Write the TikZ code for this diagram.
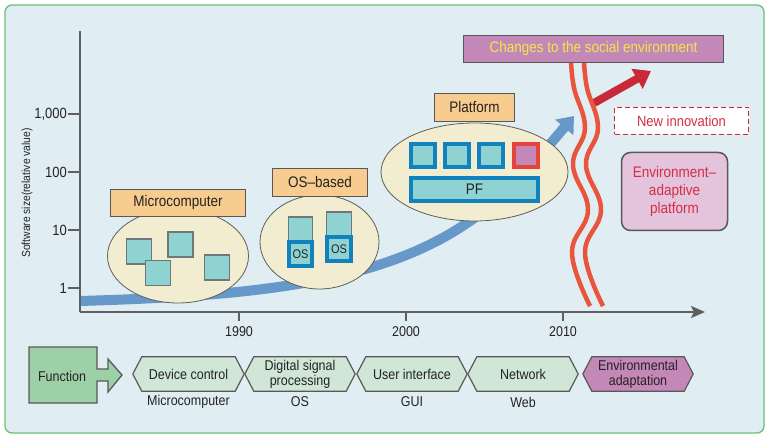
\documentclass[tikz,border=0pt]{standalone}
\usepackage{fontspec}
\setmainfont{Liberation Sans}[FakeStretch=0.88]
\usetikzlibrary{shapes.geometric,arrows.meta}
\definecolor{bgc}{RGB}{224,237,242}
\definecolor{borderc}{RGB}{110,192,112}
\definecolor{axisc}{RGB}{95,95,95}
\definecolor{edgec}{RGB}{88,88,88}
\definecolor{txtc}{RGB}{35,35,35}
\definecolor{orangec}{RGB}{248,204,142}
\definecolor{ellfill}{RGB}{242,236,208}
\definecolor{ellc}{RGB}{95,95,85}
\definecolor{tealc}{RGB}{143,210,210}
\definecolor{sqedge}{RGB}{110,120,120}
\definecolor{bluebd}{RGB}{18,130,190}
\definecolor{curvec}{RGB}{102,152,202}
\definecolor{wavec}{RGB}{232,85,60}
\definecolor{arrowred}{RGB}{200,40,55}
\definecolor{purplec}{RGB}{195,136,184}
\definecolor{yellowt}{RGB}{240,232,70}
\definecolor{redsq}{RGB}{228,68,58}
\definecolor{pinkc}{RGB}{228,196,220}
\definecolor{redtxt}{RGB}{212,45,70}
\definecolor{hexfill}{RGB}{208,230,214}
\definecolor{greenc}{RGB}{158,208,168}
\newcommand{\fs}[1]{\fontsize{\dimexpr #1pt*1136/1000\relax}{\dimexpr #1pt*1136/1000\relax}\selectfont}
\newcommand{\fsl}[2]{\fontsize{\dimexpr #1pt*1136/1000\relax}{#2pt}\selectfont}
\newcommand{\hexa}[5]{%
  \node[hexnode, fill=none, minimum width=#3pt] (#1) at (#2,374) {};
  \filldraw[hexline, fill=#4] (#1.north west) -- (#1.north east) -- ([xshift=9pt]#1.east)
    -- (#1.south east) -- (#1.south west) -- ([xshift=-9pt]#1.west) -- cycle;
  \node[hextxt] (#1-t) at (#1.center) {#5};
}
\begin{document}
\begin{tikzpicture}[x=1pt,y=-1pt,
  lbl/.style={draw=edgec, line width=1.3pt, fill=orangec, inner sep=0, font=\fs{13.5}, text=txtc},
  ell/.style={ellipse, draw=ellc, line width=0.8pt, fill=ellfill, inner sep=0},
  sq/.style={draw=sqedge, line width=1.1pt, fill=tealc, inner sep=0, minimum width=25pt, minimum height=25pt},
  bsq/.style={draw=bluebd, line width=3.8pt, fill=tealc, inner sep=0},
  axisline/.style={draw=axisc, line width=2.4pt},
  tick/.style={draw=axisc, line width=1.6pt},
  ticklbl/.style={font=\fs{12.5}, text=txtc, inner sep=1pt},
  hexnode/.style={minimum height=34pt, inner sep=0},
  hexline/.style={draw=edgec, line width=1.2pt},
  hextxt/.style={font=\fsl{12.5}{15}, text=txtc, align=center, inner sep=0},
  sublbl/.style={font=\fs{12.5}, text=txtc},
]
\useasboundingbox (0,0) rectangle (770,438);
% background
\filldraw[draw=borderc, fill=bgc, line width=1.3pt, rounded corners=7pt] (5,5) rectangle (764,433);

% blue growth curve
\coordinate (cstart) at (80,301);
\coordinate (cmid) at (470,221);
\coordinate (cend) at (574,116);
\draw[curvec, line width=10pt, -{Triangle[length=15pt,width=23pt]}]
  (cstart) .. controls (250,296) and (380,284) .. (cmid)
  .. controls (510,193) and (545,150) .. (cend);

% axes
\coordinate (o) at (80,312);
\coordinate (ytop) at (80,31);
\coordinate (xend) at (705,312);
\draw[axisline] (ytop) -- (o);
\draw[axisline, -{Stealth[length=14pt,width=12pt,inset=3pt]}] (o) -- (xend);
\foreach \yy/\tt/\nm in {114/{1,000}/ya, 172/100/yb, 230/10/yc, 288/1/yd}{
  \draw[tick] (68,\yy) -- (80,\yy);
  \node[ticklbl, anchor=east, font=\fs{13}] (\nm) at (68,\yy) {\tt};
}
\foreach \xx/\tt/\nm in {239/1990/xa, 406/2000/xb, 563/2010/xc}{
  \draw[tick] (\xx,312) -- (\xx,321);
  \node[ticklbl] (\nm) at (\xx,332) {\tt};
}
\node[rotate=90, font=\fs{10.3}, text=txtc] (ylab) at (27,193) {Software size(relative value)};

% Microcomputer
\node[ell, minimum width=141pt, minimum height=94pt] (e1) at (178,256) {};
\node[sq] (m1) at (139,251.5) {};
\node[sq] (m2) at (180.5,244.5) {};
\node[sq] (m3) at (158,273) {};
\node[sq] (m4) at (217,267.5) {};
\node[lbl, minimum width=135pt, minimum height=27pt] (l1) at (178,203) {Microcomputer};

% OS-based
\node[ell, minimum width=119pt, minimum height=94pt] (e2) at (319.5,242) {};
\node[sq, minimum width=24pt, minimum height=32pt] (o1) at (300.5,233) {};
\node[sq, minimum width=25pt, minimum height=32pt] (o2) at (339,228) {};
\node[bsq, minimum width=23.5pt, minimum height=24.5pt, font=\fs{11}, text=txtc] (os1) at (300.5,254) {OS};
\node[bsq, minimum width=24.5pt, minimum height=24.5pt, font=\fs{11}, text=txtc] (os2) at (339,249) {OS};
\node[lbl, minimum width=95pt, minimum height=28pt] (l2) at (320,182.5) {OS--based};

% Platform
\node[ell, minimum width=187pt, minimum height=98pt] (e3) at (474.5,172) {};
\node[bsq, minimum width=24pt, minimum height=23.5pt] (p1) at (423,155.5) {};
\node[bsq, minimum width=24pt, minimum height=23.5pt] (p2) at (457,155.5) {};
\node[bsq, minimum width=24pt, minimum height=23.5pt] (p3) at (491,155.5) {};
\node[bsq, draw=redsq, fill=purplec, minimum width=24pt, minimum height=23.5pt] (p4) at (526,155.5) {};
\node[bsq, minimum width=127pt, minimum height=23pt, font=\fs{13.5}, text=txtc] (pf) at (474.5,189.5) {PF};
\node[lbl, minimum width=80pt, minimum height=28pt] (l3) at (474.5,107.5) {Platform};

% red arrow and wavy lines
\coordinate (rstart) at (594,103);
\coordinate (rend) at (651,71);
\draw[arrowred, line width=8pt, -{Triangle[length=16pt,width=22pt]}] (rstart) -- (rend);
\draw[wavec, line width=4.5pt] plot[smooth, tension=0.7] coordinates
  {(571,60) (574,88) (585,128) (573,165) (588,210) (572,253) (590,306)};
\draw[wavec, line width=4.5pt] plot[smooth, tension=0.7] coordinates
  {(584,60) (587,88) (598,128) (586,165) (601,210) (585,253) (603,306)};

% top box
\node[draw=edgec, line width=1.5pt, fill=purplec, minimum width=260pt, minimum height=27pt,
  inner sep=0, font=\fs{13.5}, text=yellowt] (soc) at (593.5,49) {Changes to the social environment};
% new innovation
\node[draw=arrowred, dashed, dash pattern=on 5pt off 3pt, line width=1.5pt, fill=white,
  minimum width=134pt, minimum height=27pt, inner sep=0, font=\fs{13}, text=redtxt] (ni) at (681.5,121) {New innovation};
% environment-adaptive platform
\node[draw=edgec, line width=1.5pt, fill=pinkc, rounded corners=9pt, minimum width=106pt,
  minimum height=78pt, inner sep=0, align=center, font=\fsl{13.5}{18}, text=redtxt]
  (eap) at (674.5,191.5) {Environment--\\adaptive\\platform};

% bottom row: Function arrow
\filldraw[draw=edgec, line width=1.3pt, fill=greenc] (29,347) -- (97,347) -- (97,369) -- (108,369)
  -- (108,359) -- (122,375) -- (108,392) -- (108,381) -- (97,381) -- (97,403) -- (29,403) -- cycle;
\node[font=\fs{12.5}, text=txtc] (fn) at (62,376) {Function};

\hexa{h1}{188.5}{93}{hexfill}{Device control}
\hexa{h2}{300}{92}{hexfill}{Digital signal\\processing}
\hexa{h3}{412}{92}{hexfill}{User interface}
\hexa{h4}{523}{92}{hexfill}{Network}
\hexa{h5}{638}{92}{purplec}{Environmental\\adaptation}

\node[sublbl] (s1) at (188.5,402) {Microcomputer};
\node[sublbl] (s2) at (300,402) {OS};
\node[sublbl] (s3) at (412,402) {GUI};
\node[sublbl] (s4) at (523,402) {Web};
\end{tikzpicture}
\end{document}
